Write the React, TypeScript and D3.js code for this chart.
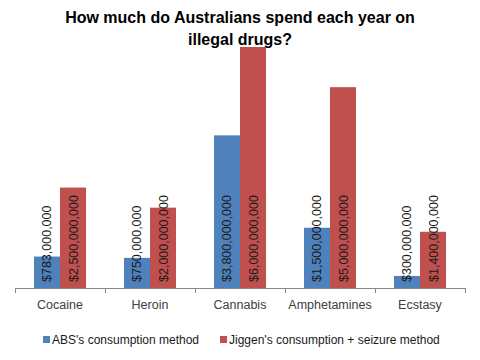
import React from 'react';
import * as d3 from 'd3';

const categories = ['Cocaine', 'Heroin', 'Cannabis', 'Amphetamines', 'Ecstasy'];
const absValues = [783000000, 750000000, 3800000000, 1500000000, 300000000];
const jiggenValues = [2500000000, 2000000000, 6000000000, 5000000000, 1400000000];
const seriesNames = ["ABS's consumption method", "Jiggen's consumption + seizure method"];
const seriesColors = ['#4F81BD', '#C0504D'];
const titleLines = ['How much do Australians spend each year on', 'illegal drugs?'];

const W = 480;
const H = 360;
const margin = { left: 15, right: 15, top: 47, bottom: 72 };
const font = '"Liberation Sans", Arial, sans-serif';

const fmt = (v: number) => '$' + d3.format(',')(v);

const App = () => {
  const x = d3
    .scaleBand()
    .domain(categories)
    .range([margin.left, W - margin.right])
    .paddingInner(0)
    .paddingOuter(0);

  // two bars side by side in the middle of each category
  const inner = d3
    .scaleBand()
    .domain(['abs', 'jiggen'])
    .range([0, x.bandwidth()])
    .paddingInner(0)
    .paddingOuter(0.73);

  const y = d3
    .scaleLinear()
    .domain([0, 6000000000])
    .range([H - margin.bottom, margin.top]);

  const rows = categories.map((c, i) => ({ c, abs: absValues[i], jiggen: jiggenValues[i] }));
  const base = y(0);

  return (
    <svg
      width={W}
      height={H}
      style={{ position: 'absolute', left: 0, top: 0, background: '#fff' }}
      fontFamily={font}
    >
      {/* title */}
      <g fontWeight="bold" fontSize={16} textAnchor="middle" fill="#000">
        {titleLines.map((t, i) => (
          <text key={t} x={W / 2} y={23 + i * 22}>
            {t}
          </text>
        ))}
      </g>

      {/* bars + value labels */}
      {rows.map((d) =>
        (['abs', 'jiggen'] as const).map((k, j) => {
          const bx = (x(d.c) ?? 0) + (inner(k) ?? 0);
          const bw = inner.bandwidth();
          const v = d[k];
          return (
            <g key={d.c + k}>
              <rect x={bx} y={y(v)} width={bw} height={base - y(v)} fill={seriesColors[j]} />
              <text
                transform={`translate(${bx + bw / 2 + 4.5},${base - 6}) rotate(-90)`}
                fontSize={12.5}
                fill="#1a1a1a"
              >
                {fmt(v)}
              </text>
            </g>
          );
        })
      )}

      {/* x axis */}
      <g stroke="#868686" strokeWidth={1}>
        <line x1={margin.left} x2={W - margin.right} y1={base + 0.5} y2={base + 0.5} />
        {d3.range(categories.length + 1).map((i) => {
          const tx = Math.round(margin.left + i * x.step()) + 0.5;
          return <line key={i} x1={tx} x2={tx} y1={base} y2={base + 5} />;
        })}
      </g>
      <g fontSize={12.5} fill="#404040" textAnchor="middle">
        {categories.map((c) => (
          <text key={c} x={(x(c) ?? 0) + x.bandwidth() / 2} y={base + 21}>
            {c}
          </text>
        ))}
      </g>

      {/* legend */}
      <g fontSize={12} fill="#1a1a1a">
        {seriesNames.map((s, i) => {
          const lx = i === 0 ? 43 : 220;
          return (
            <g key={s} transform={`translate(${lx},${H - 16})`}>
              <rect x={0} y={-8} width={7} height={7} fill={seriesColors[i]} />
              <text x={9} y={0}>
                {s}
              </text>
            </g>
          );
        })}
      </g>
    </svg>
  );
};

export default App;
